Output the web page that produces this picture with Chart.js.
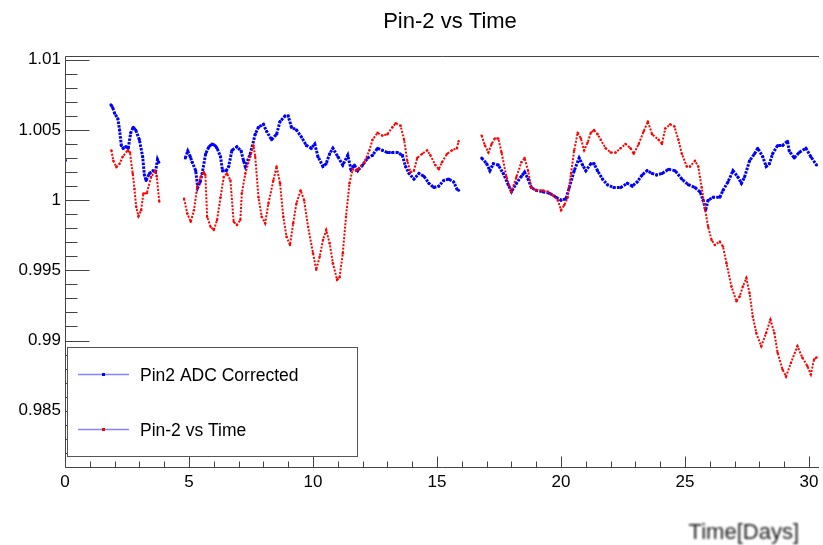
<!DOCTYPE html>
<html>
<head>
<title>Pin-2 vs Time</title>
<script src="https://cdn.jsdelivr.net/npm/chart.js"></script>
<style>
    body { margin: 0; background: #fff; }
    #wrap { width: 823px; height: 545px; }
</style>
</head>
<body>
<div id="wrap"><canvas id="myChart"></canvas></div>
<script>
// axis ticks
var xTicks = [0, 5, 10, 15, 20, 25, 30];
var xTickLabels = ['0', '5', '10', '15', '20', '25', '30'];
var yTicks = [0.985, 0.99, 0.995, 1, 1.005, 1.01];
var yTickLabels = ['0.985', '0.99', '0.995', '1', '1.005', '1.01'];

// Pin2 ADC Corrected (blue), null = gap in data
var blueDays = [0.02, null,
    1.85, 1.92, 2.0, 2.13, 2.2, 2.27, 2.35, 2.45, 2.55, 2.65, 2.75, 2.85, 3.0, 3.13, 3.2, 3.27, 3.4, 3.55, 3.65, 3.73, 3.78, null,
    4.85, 4.95, 5.05, 5.13, 5.27, 5.35, 5.45, 5.53, 5.67, 5.8, 5.93, 6.05, 6.13, 6.27, 6.35, 6.5, 6.6, 6.73, 6.93, 7.1, 7.2, 7.27,
    7.47, 7.67, 7.8, 8.0, 8.13, 8.33, 8.53, 8.67, 8.87, 9.0, 9.13, 9.33, 9.53, 9.73, 9.93, 10.07, 10.2, 10.4, 10.53, 10.67, 10.8,
    11.0, 11.2, 11.4, 11.53, 11.67, 11.8, 12.0, 12.2, 12.4, 12.6, 12.8, 13.0, 13.2, 13.4, 13.6, 13.73, 13.87, 14.07, 14.27, 14.47,
    14.67, 14.87, 15.07, 15.27, 15.47, 15.67, 15.8, 15.87, null,
    16.8, 17.0, 17.13, 17.27, 17.47, 17.67, 17.87, 18.0, 18.2, 18.4, 18.53, 18.67, 18.8, 19.0, 19.27, 19.53, 19.8, 20.0, 20.2, 20.33,
    20.53, 20.73, 20.87, 21.0, 21.2, 21.33, 21.47, 21.67, 21.87, 22.13, 22.4, 22.67, 22.87, 23.07, 23.27, 23.47, 23.67, 23.85, 24.07,
    24.33, 24.6, 24.87, 25.13, 25.4, 25.6, 25.73, 25.83, 25.93, 26.13, 26.4, 26.53, 26.73, 26.93, 27.13, 27.27, 27.4, 27.6, 27.8,
    27.93, 28.13, 28.27, 28.4, 28.53, 28.73, 28.93, 29.13, 29.2, 29.4, 29.6, 29.87, 30.07, 30.3];
var blueValues = [1.00285, null,
    1.0068, 1.0066, 1.0062, 1.0058, 1.0050, 1.0039, 1.0037, 1.0038, 1.0037, 1.0048, 1.0052, 1.0050, 1.0043, 1.0031, 1.0018, 1.0014, 1.0019, 1.0021, 1.0020, 1.0029, 1.0027, null,
    1.0030, 1.0035, 1.0031, 1.0027, 1.0021, 1.0009, 1.0013, 1.0019, 1.0033, 1.0038, 1.0040, 1.0039, 1.0037, 1.0031, 1.0021, 1.0021, 1.0024, 1.00355, 1.0038, 1.0035, 1.0028, 1.0024,
    1.0033, 1.0047, 1.0052, 1.0054, 1.0049, 1.0043, 1.0047, 1.0056, 1.0060, 1.0060, 1.0052, 1.0050, 1.0045, 1.0039, 1.0037, 1.0040, 1.0031, 1.0024, 1.0026, 1.0033, 1.0037,
    1.0031, 1.0025, 1.0032, 1.0022, 1.0025, 1.0021, 1.0025, 1.0030, 1.0032, 1.0037, 1.00355, 1.0034, 1.0034, 1.0034, 1.0032, 1.0024, 1.0019, 1.0015, 1.0019, 1.0017,
    1.0012, 1.0009, 1.0010, 1.0014, 1.0015, 1.0013, 1.0008, 1.0007, null,
    1.0030, 1.0026, 1.0021, 1.0026, 1.0025, 1.0019, 1.0011, 1.0006, 1.0012, 1.0017, 1.0020, 1.0015, 1.0009, 1.0007, 1.0006, 1.0005, 1.0002, 1.0000, 1.0001, 1.0009,
    1.0021, 1.0030, 1.0025, 1.0021, 1.0026, 1.0026, 1.0021, 1.0015, 1.0011, 1.0009, 1.0009, 1.0012, 1.0010, 1.0013, 1.0018, 1.0021, 1.0019, 1.0018, 1.0019,
    1.0022, 1.0021, 1.0015, 1.0011, 1.0009, 1.0006, 1.0000, 0.9993, 1.0000, 1.0002, 1.0002, 1.0007, 1.0013, 1.0021, 1.00165, 1.0012, 1.00165, 1.0028, 1.0033,
    1.0037, 1.0031, 1.0024, 1.0026, 1.0033, 1.0039, 1.0039, 1.0042, 1.0035, 1.0030, 1.0034, 1.0037, 1.0031, 1.0025];

// Pin-2 vs Time (red)
var redDays = [0.02, null,
    1.87, 1.95, 2.07, 2.2, 2.33, 2.53, 2.62, 2.73, 2.8, 2.87, 2.96, 3.07, 3.16, 3.3, 3.47, 3.64, 3.7, 3.8, null,
    4.8, 4.93, 5.07, 5.2, 5.33, 5.47, 5.6, 5.66, 5.73, 5.87, 6.0, 6.13, 6.27, 6.4, 6.53, 6.67, 6.8, 6.93, 7.07, 7.13, 7.27, 7.47,
    7.6, 7.67, 7.8, 7.93, 8.07, 8.2, 8.4, 8.53, 8.67, 8.8, 8.93, 9.07, 9.2, 9.33, 9.5, 9.64, 9.8, 10.0, 10.13, 10.27, 10.4, 10.53,
    10.67, 10.8, 10.97, 11.07, 11.2, 11.33, 11.47, 11.6, 11.73, 11.8, 12.07, 12.27, 12.4, 12.6, 12.8, 13.0, 13.2, 13.33, 13.53,
    13.67, 13.8, 13.93, 14.07, 14.2, 14.4, 14.6, 14.73, 14.93, 15.07, 15.2, 15.4, 15.6, 15.8, 15.87, null,
    16.8, 16.93, 17.07, 17.2, 17.33, 17.47, 17.6, 17.8, 18.0, 18.2, 18.4, 18.53, 18.67, 18.8, 19.0, 19.27, 19.47, 19.67, 19.87,
    20.0, 20.13, 20.27, 20.4, 20.53, 20.67, 20.8, 20.93, 21.07, 21.2, 21.33, 21.47, 21.6, 21.8, 22.0, 22.2, 22.4, 22.6, 22.8,
    22.93, 23.13, 23.33, 23.5, 23.67, 23.93, 24.07, 24.2, 24.4, 24.57, 24.73, 24.87, 25.07, 25.2, 25.4, 25.53, 25.67, 25.8, 25.93,
    26.07, 26.2, 26.4, 26.53, 26.67, 26.87, 27.07, 27.2, 27.33, 27.47, 27.6, 27.73, 27.87, 28.07, 28.27, 28.44, 28.6, 28.73,
    28.93, 29.07, 29.27, 29.53, 29.73, 29.93, 30.07, 30.2, 30.3];
var redValues = [1.0040, null,
    1.00355, 1.0028, 1.00236, 1.0026, 1.0031, 1.00355, 1.0034, 1.0019, 1.0008, 0.99953, 0.99886, 0.99929, 1.00047, 1.0005, 1.00165, 1.0021, 1.0017, 0.9999, null,
    1.0001, 0.99905, 0.99846, 0.99929, 1.00094, 1.00165, 1.0020, 1.0018, 0.99882, 0.9981, 0.99787, 0.99858, 1.0002, 1.00165, 1.0019, 1.0014, 0.99846, 0.99823, 0.9986, 1.0005, 1.0019, 1.0031,
    1.0039, 1.0031, 1.0002, 0.99882, 0.99835, 0.99976, 1.0014, 1.0024, 1.0012, 0.99882, 0.9974, 0.99681, 0.99835, 0.99976, 1.0007, 1.0000, 0.9981, 0.99622, 0.99504, 0.99598, 0.99716, 0.99787,
    0.99693, 0.99551, 0.99433, 0.9945, 0.99622, 0.99882, 1.0012, 1.0022, 1.0021, 1.0022, 1.0027, 1.00355, 1.0043, 1.0048, 1.0046, 1.0047, 1.0052, 1.00548, 1.0053,
    1.0043, 1.0028, 1.0020, 1.0021, 1.0030, 1.0033, 1.00355, 1.0032, 1.0025, 1.0022, 1.0027, 1.0033, 1.00355, 1.0037, 1.0042, null,
    1.0046, 1.0039, 1.0034, 1.0040, 1.0044, 1.0044, 1.0034, 1.00165, 1.0006, 1.00165, 1.0027, 1.0030, 1.0021, 1.0009, 1.0007, 1.0007, 1.0006, 1.00035, 1.0000,
    0.99929, 0.99965, 1.0002, 1.0019, 1.00355, 1.0048, 1.0044, 1.00355, 1.0041, 1.0048, 1.0050, 1.0047, 1.0043, 1.0037, 1.0034, 1.0034, 1.0037, 1.0040, 1.0037,
    1.0033, 1.0040, 1.0049, 1.0056, 1.0047, 1.0043, 1.0040, 1.0051, 1.0054, 1.00525, 1.0043, 1.0033, 1.0024, 1.0024, 1.0028, 1.0024, 1.0009, 0.99941, 0.9981,
    0.99716, 0.99681, 0.99704, 0.99669, 0.99551, 0.99385, 0.99279, 0.99314, 0.99385, 0.99445, 0.99338, 0.99172, 0.99054, 0.9896, 0.99054, 0.99149, 0.99054, 0.98913,
    0.98794, 0.98743, 0.98842, 0.9896, 0.98877, 0.98818, 0.98759, 0.98865, 0.9888];

var FONT = '"Liberation Sans", Arial, Helvetica, sans-serif';
var AXIS_COLOR = '#444';

function toPoints(days, values) {
    return days.map(function (d, i) {
        return { x: d, y: values[i] };
    });
}

// ROOT style frame: ticks drawn inward, top line, titles and legend box
var rootFrame = {
    id: 'rootFrame',
    afterDraw: function (chart) {
        var ctx = chart.ctx;
        var area = chart.chartArea;
        var xs = chart.scales.x;
        var ys = chart.scales.y;
        var left = Math.round(area.left) + 0.5;
        var bottom = Math.round(area.bottom) + 0.5;
        var top = Math.round(area.top) + 0.5;

        ctx.save();
        ctx.strokeStyle = AXIS_COLOR;
        ctx.lineWidth = 1;
        ctx.beginPath();
        ctx.moveTo(left, top); ctx.lineTo(area.right, top);
        ctx.moveTo(left, top); ctx.lineTo(left, bottom);
        ctx.moveTo(left, bottom); ctx.lineTo(area.right, bottom);

        // y ticks
        for (var k = 981; k <= 1010; k++) {
            var y = Math.round(ys.getPixelForValue(k / 1000)) + 0.5;
            var len = (k % 5 === 0) ? 24 : 12;
            ctx.moveTo(left, y); ctx.lineTo(left + len, y);
        }
        // x ticks
        for (var d = 1; d <= 30; d++) {
            var x = Math.round(xs.getPixelForValue(d)) + 0.5;
            var l = (d % 5 === 0) ? 11 : 6;
            ctx.moveTo(x, bottom); ctx.lineTo(x, bottom - l);
        }
        ctx.stroke();

        // title
        ctx.fillStyle = '#000';
        ctx.font = '22px ' + FONT;
        ctx.textAlign = 'center';
        ctx.textBaseline = 'alphabetic';
        ctx.fillText('Pin-2 vs Time', 450, 28);

        // x axis title (blurry in the original)
        ctx.save();
        ctx.filter = 'blur(0.9px)';
        ctx.fillStyle = '#1a1a1a';
        ctx.textAlign = 'right';
        ctx.fillText('Time[Days]', 799, 539);
        ctx.restore();

        // legend
        ctx.fillStyle = '#fff';
        ctx.fillRect(67.5, 347.5, 290, 109);
        ctx.strokeStyle = '#555';
        ctx.strokeRect(67.5, 347.5, 290, 109);

        var entries = [
            { label: 'Pin2 ADC Corrected', color: '#0000ff', y: 374.5 },
            { label: 'Pin-2 vs Time', color: '#ff0000', y: 429.5 }
        ];
        entries.forEach(function (e) {
            ctx.strokeStyle = 'rgba(90, 90, 255, 0.75)';
            ctx.lineWidth = 1.5;
            ctx.beginPath();
            ctx.moveTo(78, e.y); ctx.lineTo(129, e.y);
            ctx.stroke();
            ctx.fillStyle = e.color;
            ctx.fillRect(102, e.y - 1.5, 3, 3);
            ctx.fillStyle = '#000';
            ctx.font = '17.5px ' + FONT;
            ctx.textAlign = 'left';
            ctx.fillText(e.label, 140, e.y + 6.5);
        });
        ctx.restore();
    }
};

var ctx = document.getElementById('myChart').getContext('2d');
var myChart = new Chart(ctx, {
    type: 'scatter',
    data: {
        datasets: [{
            label: 'Pin-2 vs Time',
            data: toPoints(redDays, redValues),
            showLine: true,
            spanGaps: false,
            borderColor: '#ff0000',
            borderWidth: 2,
            borderDash: [2, 1.5],
            pointRadius: 1.2,
            pointBorderWidth: 0,
            pointBackgroundColor: '#ff0000'
        }, {
            label: 'Pin2 ADC Corrected',
            data: toPoints(blueDays, blueValues),
            showLine: true,
            spanGaps: false,
            borderColor: '#0000ff',
            borderWidth: 3,
            borderDash: [2.5, 1.2],
            pointRadius: 1.5,
            pointBorderWidth: 0,
            pointBackgroundColor: '#0000ff'
        }]
    },
    options: {
        responsive: true,
        maintainAspectRatio: false,
        animation: false,
        devicePixelRatio: 1,
        layout: { padding: { top: 56, right: 0.5, left: 0, bottom: 0 } },
        plugins: {
            legend: { display: false },
            title: { display: false },
            tooltip: { enabled: false }
        },
        scales: {
            x: {
                type: 'linear',
                min: 0,
                max: 30.4,
                grid: { display: false, drawTicks: false },
                border: { display: false },
                afterBuildTicks: function (s) {
                    s.ticks = xTicks.map(function (v) { return { value: v }; });
                },
                afterFit: function (s) {
                    s.height = 78;
                    s.paddingLeft = 0;
                    s.paddingRight = 0;
                },
                ticks: {
                    autoSkip: false,
                    maxRotation: 0,
                    padding: 5,
                    color: '#000',
                    font: { family: FONT, size: 17 },
                    callback: function (v) {
                        return xTickLabels[xTicks.indexOf(v)];
                    }
                }
            },
            y: {
                type: 'linear',
                min: 0.98099,
                max: 1.01027,
                grid: { display: false, drawTicks: false },
                border: { display: false },
                afterBuildTicks: function (s) {
                    s.ticks = yTicks.map(function (v) { return { value: v }; });
                },
                afterFit: function (s) {
                    s.width = 65;
                    s.paddingTop = 0;
                    s.paddingBottom = 0;
                },
                ticks: {
                    autoSkip: false,
                    padding: 4,
                    color: '#000',
                    font: { family: FONT, size: 17 },
                    callback: function (v) {
                        return yTickLabels[yTicks.indexOf(v)];
                    }
                }
            }
        }
    },
    plugins: [rootFrame]
});
</script>
</body>
</html>
